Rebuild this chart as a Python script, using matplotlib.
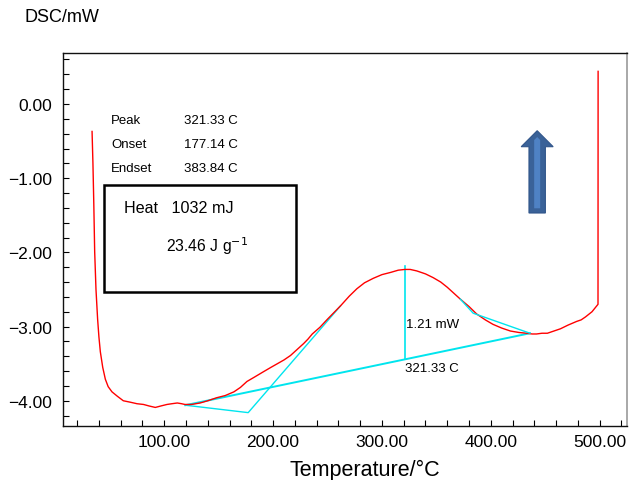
import matplotlib
matplotlib.use("Agg")
import matplotlib.pyplot as plt
from matplotlib.patches import Polygon, Rectangle
from matplotlib.ticker import MultipleLocator, FuncFormatter

plt.rcParams['font.family'] = ['Liberation Sans', 'DejaVu Sans']
plt.rcParams['axes.unicode_minus'] = True

# DSC curve (temperature in °C, heat flow in mW)
temp = [33.7, 34.5, 35.3, 36.1, 37.3, 38.8, 40.0, 41.3, 43.5, 45.9, 48.5, 52.0, 57.0,
        62.4, 69.0, 75.0, 81.0, 86.0, 91.8, 97.0, 102.5, 107.0, 112.0, 116.0, 119.0,
        125.0, 133.0, 140.0, 148.0, 156.0, 164.0, 170.0, 176.0, 183.0, 191.0, 198.0,
        204.0, 210.0, 216.0, 222.0, 228.0, 232.0, 236.0, 243.0, 250.0, 256.0, 262.0,
        270.0, 277.0, 284.0, 292.0, 300.0, 308.0, 315.0, 321.0, 326.0, 332.0, 340.0,
        347.0, 354.0, 360.0, 366.0, 372.0, 380.0, 387.0, 395.0, 402.0, 410.0, 418.0,
        426.0, 433.0, 438.0, 442.0, 447.0, 452.0, 458.0, 464.0, 471.0, 479.0, 483.0,
        487.0, 493.0, 498.5, 498.6]
dsc = [-0.37, -0.80, -1.35, -1.99, -2.50, -2.90, -3.14, -3.34, -3.55, -3.71, -3.81,
       -3.88, -3.94, -4.00, -4.02, -4.04, -4.05, -4.07, -4.09, -4.07, -4.05, -4.04,
       -4.03, -4.04, -4.05, -4.05, -4.03, -4.00, -3.96, -3.93, -3.88, -3.82, -3.74,
       -3.68, -3.61, -3.55, -3.50, -3.45, -3.39, -3.31, -3.23, -3.17, -3.10, -3.01,
       -2.90, -2.81, -2.72, -2.59, -2.49, -2.41, -2.35, -2.30, -2.27, -2.24, -2.23,
       -2.23, -2.25, -2.29, -2.34, -2.40, -2.47, -2.55, -2.63, -2.73, -2.83, -2.91,
       -2.97, -3.02, -3.06, -3.08, -3.09, -3.10, -3.10, -3.09, -3.09, -3.06, -3.03,
       -2.98, -2.93, -2.91, -2.87, -2.80, -2.70, 0.44]

# Analysis construction lines
baseline_t = [119.4, 436.0]
baseline_y = [-4.06, -3.09]
onset_t = [119.4, 177.14, 262.0]
onset_y = [-4.06, -4.16, -2.72]
endset_t = [372.0, 383.84, 436.0]
endset_y = [-2.63, -2.82, -3.09]
peak_t = 321.33
peak_y = [-3.44, -2.18]

xticks = [100, 200, 300, 400, 500]
yticks = [0.0, -1.0, -2.0, -3.0, -4.0]

fig = plt.figure(figsize=(6.3, 4.81), dpi=100)
ax = fig.add_axes([0.1, 0.1123, 0.895, 0.7754])

ax.plot(temp, dsc, color='#ff0000', lw=1.0, zorder=3)
ax.plot(baseline_t, baseline_y, color='#00e5ee', lw=1.4, zorder=2)
ax.plot(onset_t, onset_y, color='#00e5ee', lw=1.0, zorder=2)
ax.plot(endset_t, endset_y, color='#00e5ee', lw=1.0, zorder=4)
ax.plot([peak_t, peak_t], peak_y, color='#00e5ee', lw=1.2, zorder=2)

fmt = FuncFormatter(lambda v, p: ('%.2f' % v).replace('-', '\u2212'))
ax.set_xlim(7, 525)
ax.set_ylim(-4.34, 0.687)
ax.set_xticks(xticks)
ax.set_yticks(yticks)
ax.xaxis.set_minor_locator(MultipleLocator(20))
ax.yaxis.set_minor_locator(MultipleLocator(0.2))
ax.xaxis.set_major_formatter(fmt)
ax.yaxis.set_major_formatter(fmt)
ax.tick_params(which='both', direction='in', length=4, width=0.8, labelsize=12.5,
               top=False, right=False)
ax.tick_params(axis='x', pad=6)
ax.tick_params(axis='y', pad=8)
for s in ['left', 'bottom', 'top']:
    ax.spines[s].set_color('#111111')
    ax.spines[s].set_linewidth(1.0)
ax.spines['right'].set_color('#999999')
ax.spines['right'].set_linewidth(1.2)

fig.text(24 / 630, 1 - 18 / 481, 'DSC/mW', fontsize=13, ha='left', va='center')
fig.text(365 / 630, 1 - 476 / 481, 'Temperature/°C', fontsize=15.5, ha='center',
         va='baseline')

# Results text
tr = ax.transAxes
def axf(px, py):
    return ((px - 63) / 564, (427 - py) / 373)

for lab, val, py in [('Peak', '321.33 C', 121), ('Onset', '177.14 C', 145),
                     ('Endset', '383.84 C', 169)]:
    ax.text(*axf(111, py), lab, transform=tr, fontsize=9.5, ha='left', va='center')
    ax.text(*axf(184, py), val, transform=tr, fontsize=9.5, ha='left', va='center')

x0, y0 = axf(104, 293)
x1, y1 = axf(296, 186)
ax.add_patch(Rectangle((x0, y0), x1 - x0, y1 - y0, transform=tr, fill=False,
                       ec='black', lw=1.8, zorder=5))
ax.text(*axf(124, 208), 'Heat   1032 mJ', transform=tr, fontsize=11.6, ha='left', va='center')
ax.text(*axf(207, 246), '23.46 J g$^{\u22121}$', transform=tr, fontsize=11.3, ha='center', va='center')

ax.text(peak_t + 1, -2.96, '1.21 mW', fontsize=9.5, ha='left', va='center')
ax.text(peak_t, -3.56, '321.33 C', fontsize=9.5, ha='left', va='center')

# Block arrow (heat flow direction)
cx = 537.3
outer = [axf(cx - 8.2, 214), axf(cx + 8.2, 214), axf(cx + 8.2, 147.7), axf(cx + 16, 147.7),
         axf(cx, 131.7), axf(cx - 16, 147.7), axf(cx - 8.2, 147.7)]
ax.add_patch(Polygon(outer, closed=True, transform=tr, fc='#3A6298', ec='#30558a',
                     lw=0.8, zorder=5))
inner = [axf(cx - 3, 209.3), axf(cx + 3, 209.3), axf(cx + 3, 141), axf(cx, 138),
         axf(cx - 3, 141)]
ax.add_patch(Polygon(inner, closed=True, transform=tr, fc='#4F82C4', ec='none', zorder=6))

fig.savefig('out.png', dpi=100)
